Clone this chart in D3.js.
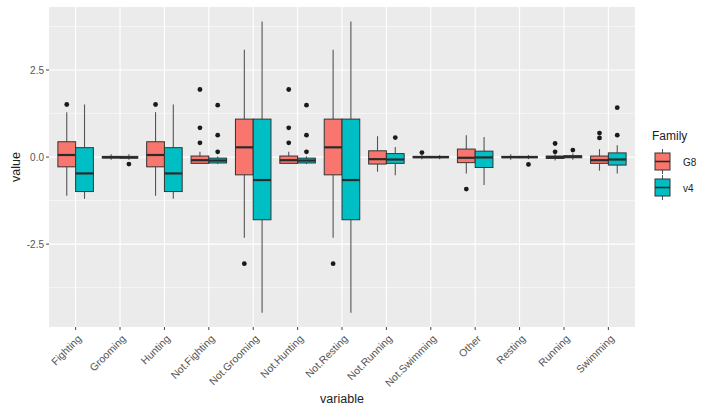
<!DOCTYPE html>
<html><head><meta charset="utf-8">
<script src="https://cdn.jsdelivr.net/npm/d3@7"></script>
<style>body{margin:0;background:#fff;} svg{display:block;font-family:"Liberation Sans",Arial,sans-serif;}</style>
</head><body>
<svg id="c" width="720" height="413"></svg>
<script>
const categories = ["Fighting","Grooming","Hunting","Not.Fighting","Not.Grooming","Not.Hunting","Not.Resting","Not.Running","Not.Swimming","Other","Resting","Running","Swimming"];
const families = ["G8","v4"];
const familyColors = ["#F8766D","#00BFC4"];
const yTicks = [-2.5, 0, 2.5];
const yTickLabels = ["-2.5","0.0","2.5"];

// G8 boxplot stats per category
const g8Lower  = [-1.11,-0.08,-1.11,-0.20,-2.32,-0.20,-2.32,-0.42,-0.06,-0.47,-0.08,-0.10,-0.39];
const g8Q1     = [-0.28,-0.03,-0.28,-0.18,-0.51,-0.18,-0.51,-0.20,-0.02,-0.16,-0.02,-0.04,-0.18];
const g8Median = [ 0.06, 0.00, 0.06,-0.09, 0.28,-0.09, 0.28,-0.06, 0.00,-0.02, 0.00, 0.00,-0.09];
const g8Q3     = [ 0.44, 0.02, 0.44, 0.03, 1.09, 0.03, 1.09, 0.18, 0.02, 0.23, 0.02, 0.03, 0.03];
const g8Upper  = [ 1.29, 0.08, 1.29, 0.15, 3.08, 0.15, 3.08, 0.60, 0.06, 0.63, 0.08, 0.08, 0.23];
const g8Outliers = [[1.51],[],[1.51],[1.94,0.84,0.41],[-3.06],[1.94,0.84,0.41],[-3.06],[],[0.13],[-0.92],[],[0.39,0.15],[0.69,0.55]];

// v4 boxplot stats per category
const v4Lower  = [-1.20,-0.08,-1.20,-0.20,-4.47,-0.20,-4.47,-0.52,-0.06,-0.80,-0.06,-0.08,-0.47];
const v4Q1     = [-0.99,-0.03,-0.99,-0.17,-1.80,-0.17,-1.80,-0.18,-0.02,-0.30,-0.02,-0.02,-0.23];
const v4Median = [-0.47,-0.01,-0.47,-0.10,-0.66,-0.10,-0.66,-0.07, 0.00,-0.01, 0.00, 0.01,-0.07];
const v4Q3     = [ 0.27, 0.02, 0.27,-0.03, 1.09,-0.03, 1.09, 0.10, 0.02, 0.17, 0.02, 0.04, 0.12];
const v4Upper  = [ 1.51, 0.08, 1.51, 0.02, 3.89, 0.02, 3.89, 0.29, 0.06, 0.58, 0.06, 0.10, 0.34];
const v4Outliers = [[],[-0.2],[],[1.49,0.63,0.15],[],[1.49,0.63,0.15],[],[0.56],[],[],[-0.21],[0.2],[1.42,0.63]];

const stats = [
  {fam:"G8", lo:g8Lower, q1:g8Q1, med:g8Median, q3:g8Q3, hi:g8Upper, out:g8Outliers},
  {fam:"v4", lo:v4Lower, q1:v4Q1, med:v4Median, q3:v4Q3, hi:v4Upper, out:v4Outliers}
];

const svg = d3.select("#c");
const P = {left:49, top:7, right:635, bottom:327};
const x = d3.scaleBand().domain(categories).range([P.left, P.right]).paddingOuter(0.1).paddingInner(0.0);
const xc = c => x(c) + x.bandwidth()/2;
const xd = d3.scaleBand().domain(families).range([-0.4, 0.4]);
const y = d3.scaleLinear().domain([-4.88, 4.31]).range([P.bottom, P.top]);
const fill = d3.scaleOrdinal().domain(families).range(familyColors);

// panel
svg.append("rect").attr("x",P.left).attr("y",P.top).attr("width",P.right-P.left).attr("height",P.bottom-P.top).attr("fill","#EBEBEB");
const minor = [-3.75,-1.25,1.25,3.75];
svg.selectAll(".ymin").data(minor).enter().append("line")
  .attr("x1",P.left).attr("x2",P.right).attr("y1",d=>y(d)).attr("y2",d=>y(d))
  .attr("stroke","#fff").attr("stroke-width",0.55);
svg.selectAll(".ymaj").data(yTicks).enter().append("line")
  .attr("x1",P.left).attr("x2",P.right).attr("y1",d=>y(d)).attr("y2",d=>y(d))
  .attr("stroke","#fff").attr("stroke-width",1.1);
svg.selectAll(".xmaj").data(categories).enter().append("line")
  .attr("x1",d=>xc(d)).attr("x2",d=>xc(d)).attr("y1",P.top).attr("y2",P.bottom)
  .attr("stroke","#fff").attr("stroke-width",1.1);

const bw = x.bandwidth();
stats.forEach(s => {
  const g = svg.append("g");
  categories.forEach((c,i) => {
    const cx = xc(c) + (xd(s.fam) + xd.bandwidth()/2)*bw;
    const w = xd.bandwidth()*bw;
    g.append("line").attr("x1",cx).attr("x2",cx).attr("y1",y(s.hi[i])).attr("y2",y(s.q3[i])).attr("stroke","#555").attr("stroke-width",1.1);
    g.append("line").attr("x1",cx).attr("x2",cx).attr("y1",y(s.q1[i])).attr("y2",y(s.lo[i])).attr("stroke","#555").attr("stroke-width",1.1);
    g.append("rect").attr("x",cx-w/2).attr("y",y(s.q3[i])).attr("width",w)
      .attr("height",Math.max(0.5,y(s.q1[i])-y(s.q3[i])))
      .attr("fill",fill(s.fam)).attr("stroke","#333").attr("stroke-width",1);
    g.append("line").attr("x1",cx-w/2).attr("x2",cx+w/2).attr("y1",y(s.med[i])).attr("y2",y(s.med[i]))
      .attr("stroke","#2a2a2a").attr("stroke-width",2.2);
    s.out[i].forEach(o => {
      g.append("circle").attr("cx",cx).attr("cy",y(o)).attr("r",2.4).attr("fill","#1a1a1a");
    });
  });
});

// y axis
svg.selectAll(".yt").data(yTicks).enter().append("line")
  .attr("x1",P.left-3).attr("x2",P.left).attr("y1",d=>y(d)).attr("y2",d=>y(d)).attr("stroke","#444");
svg.selectAll(".ytl").data(yTicks).enter().append("text")
  .attr("x",P.left-5).attr("y",d=>y(d)).attr("dy","0.35em").attr("text-anchor","end")
  .attr("font-size",10).attr("fill","#555").text((d,i)=>yTickLabels[i]);
// x axis
svg.selectAll(".xt").data(categories).enter().append("line")
  .attr("x1",d=>xc(d)).attr("x2",d=>xc(d)).attr("y1",P.bottom).attr("y2",P.bottom+3).attr("stroke","#444");
svg.selectAll(".xtl").data(categories).enter().append("text")
  .attr("transform",d=>`translate(${xc(d)+2},${P.bottom+8}) rotate(-45)`)
  .attr("text-anchor","end").attr("dy","0.6em")
  .attr("font-size",10.5).attr("fill","#555").text(d=>d);

svg.append("text").attr("x",(P.left+P.right)/2).attr("y",403).attr("text-anchor","middle")
  .attr("font-size",12.5).attr("fill","#222").text("variable");
svg.append("text").attr("transform",`translate(20,${(P.top+P.bottom)/2}) rotate(-90)`).attr("text-anchor","middle")
  .attr("font-size",12.5).attr("fill","#222").text("value");

// legend
const L = svg.append("g").attr("transform","translate(652,0)");
L.append("text").attr("x",0).attr("y",140).attr("font-size",12).attr("fill","#222").text("Family");
families.forEach((f,i) => {
  const ky = 150 + i*26;
  const kx = 2;
  L.append("line").attr("x1",kx+8.5).attr("x2",kx+8.5).attr("y1",ky-1).attr("y2",ky+24).attr("stroke","#555").attr("stroke-width",1);
  L.append("rect").attr("x",kx+1).attr("y",ky+3).attr("width",15).attr("height",17)
    .attr("fill",fill(f)).attr("stroke","#333").attr("stroke-width",1);
  L.append("line").attr("x1",kx+1).attr("x2",kx+16).attr("y1",ky+11.5).attr("y2",ky+11.5).attr("stroke","#2a2a2a").attr("stroke-width",1.6);
  L.append("text").attr("x",kx+29).attr("y",ky+12).attr("dy","0.35em").attr("font-size",10).attr("fill","#222").text(f);
});
</script>
</body></html>
